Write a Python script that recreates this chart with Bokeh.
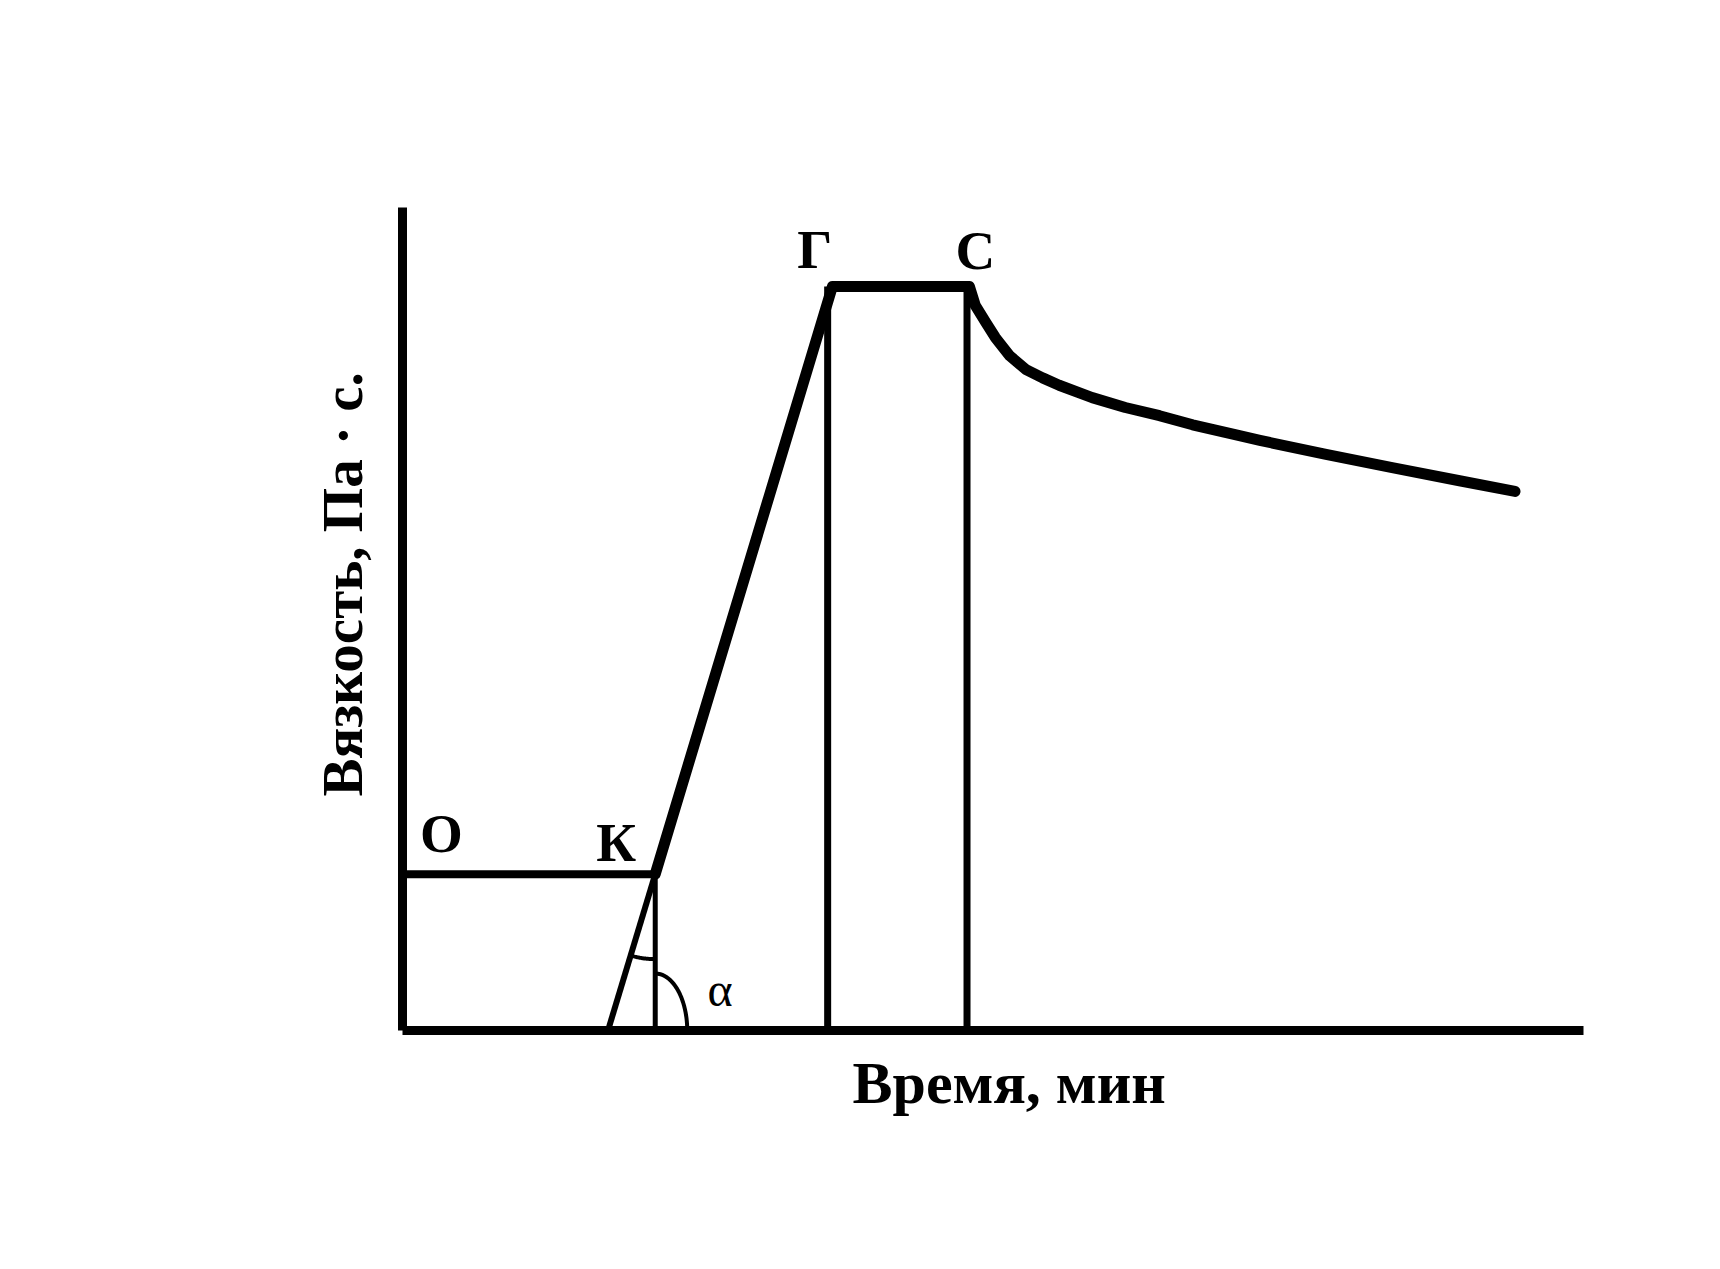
import numpy as np
from bokeh.plotting import figure
from bokeh.models import Range1d, FixedTicker, Title
from bokeh.embed import file_html
from bokeh.resources import INLINE
from bokeh.core.properties import value

# ---- data (time in arbitrary minutes, viscosity in arbitrary units) ----
plateau_t = [0.0, 21.4]          # О -> К
plateau_v = [19.0, 19.0]
rise_low_t = [17.4, 21.4]        # extension of the rise down to the time axis
rise_low_v = [0.0, 19.0]
profile_t = [21.4, 36.4, 48.0, 48.5, 49.4, 50.2, 51.4, 52.8, 54.2, 55.6, 58.4, 61.2,
             64.1, 66.9, 70.5, 72.6, 78.2, 83.8, 89.5, 94.2]   # К -> Г -> С -> decay
profile_v = [19.0, 90.4, 90.4, 88.1, 86.0, 84.2, 82.0, 80.3, 79.3, 78.4, 76.9, 75.7,
             74.7, 73.6, 72.4, 71.7, 70.0, 68.4, 66.8, 65.5]
drop_t = [36.0, 47.8]            # verticals at Г, С
drop_top = [90.4, 90.4]
point_labels = ["О", "К", "Г", "С"]
point_t = [3.3, 18.1, 34.9, 48.5]
point_v = [23.9, 22.8, 94.9, 94.8]
angle_label = ["α"]
angle_t = [26.9]
angle_v = [5.0]
x_title = "Время, мин"
y_title = "Вязкость, Па · с."

W, H = 1704, 1253
L, R, T, B = 402, 121, 207, 223
sx = (W - L - R) / 100.0   # px per time unit
sy = (H - T - B) / 100.0   # px per viscosity unit

p = figure(width=W, height=H, output_backend="svg", toolbar_location=None,
           x_range=Range1d(0, 100), y_range=Range1d(0, 100),
           min_border_left=L, min_border_right=R, min_border_top=T, min_border_bottom=B)
p.grid.visible = False
p.outline_line_color = None
p.background_fill_color = "white"
p.border_fill_color = "white"

for ax in (p.xaxis[0], p.yaxis[0]):
    ax.ticker = FixedTicker(ticks=[])
    ax.major_tick_line_color = None
    ax.minor_tick_line_color = None
    ax.major_tick_out = 0
    ax.major_tick_in = 0
    ax.minor_tick_out = 0
    ax.major_label_text_font_size = "0px"
    ax.axis_line_color = "black"
    ax.axis_line_width = 9

# axis titles
p.add_layout(Title(text=y_title, align="left", offset=234, standoff=57,
                   text_font="Liberation Serif", text_font_style="bold", text_font_size="57px",
                   text_color="black"), "left")
p.add_layout(Title(text=x_title, align="left", offset=450, standoff=34,
                   text_font="Liberation Serif", text_font_style="bold", text_font_size="60px",
                   text_color="black"), "below")

# curves
p.line(plateau_t, plateau_v, line_color="black", line_width=8)
p.line(rise_low_t, rise_low_v, line_color="black", line_width=6)
p.segment(x0=[plateau_t[1]], y0=[0], x1=[plateau_t[1]], y1=[plateau_v[1]], line_color="black", line_width=5)
p.segment(x0=drop_t, y0=[0] * len(drop_t), x1=drop_t, y1=drop_top, line_color="black", line_width=7)
p.line(profile_t, profile_v, line_color="black", line_width=11, line_join="round", line_cap="round")

# angle arcs (computed in screen proportions)
kt, kv = plateau_t[1], plateau_v[1]
dx = (rise_low_t[0] - rise_low_t[1]) * sx
dy = (rise_low_v[0] - rise_low_v[1]) * sy
ang_slant = np.arctan2(dy, dx)
th = np.linspace(ang_slant, -np.pi / 2, 30)
r_px = 85
p.line(kt + r_px * np.cos(th) / sx, kv + r_px * np.sin(th) / sy, line_color="black", line_width=4)

th2 = np.linspace(0, np.pi / 2, 40)
p.line(kt + 32 * np.cos(th2) / sx, 0 + 57 * np.sin(th2) / sy, line_color="black", line_width=4)

# point labels
p.text(point_t, point_v, text=point_labels, text_font=value("Liberation Serif"),
       text_font_style="bold", text_font_size="55px", text_color="black",
       text_align="center", text_baseline="middle")
p.text(angle_t, angle_v, text=angle_label, text_font=value("Liberation Serif"),
       text_font_size="48px", text_color="black", text_align="center", text_baseline="middle")

open("out.html", "w").write(file_html(p, INLINE))
